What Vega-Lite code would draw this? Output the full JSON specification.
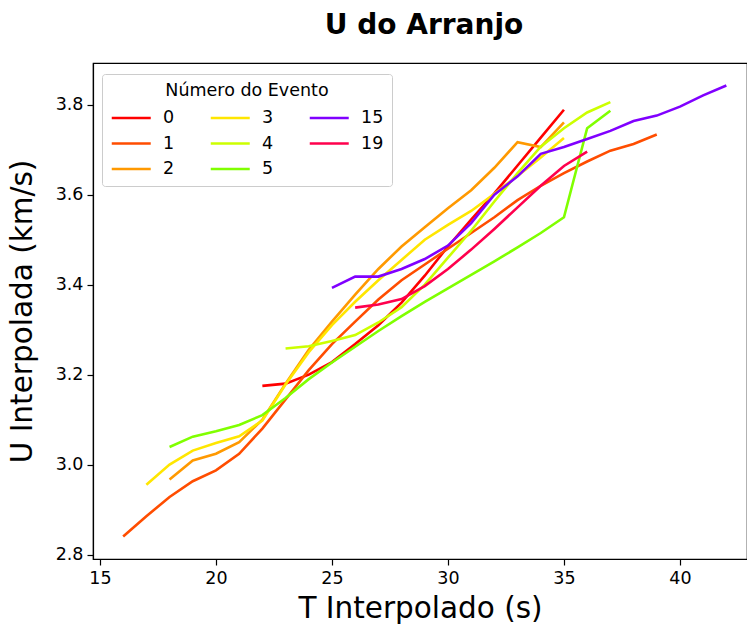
{
  "$schema": "https://vega.github.io/schema/vega-lite/v6.json",
  "autosize": {"type": "none"},
  "padding": {"left": 93, "top": 63, "right": 0, "bottom": 67},
  "width": 654,
  "height": 496,
  "background": "white",
  "config": {
    "font": "DejaVu Sans",
    "view": {"stroke": "black", "strokeWidth": 1.2}
  },
  "title": {
    "text": "U do Arranjo",
    "font": "DejaVu Sans",
    "fontSize": 28,
    "fontWeight": "bold",
    "color": "black",
    "anchor": "middle",
    "dx": 4,
    "offset": 23
  },
  "datasets": {
    "curves": [
      {"evento": 0, "T": 22, "U": 3.175}, {"evento": 0, "T": 23, "U": 3.18}, {"evento": 0, "T": 24, "U": 3.2}, {"evento": 0, "T": 25, "U": 3.228}, {"evento": 0, "T": 26, "U": 3.268}, {"evento": 0, "T": 27, "U": 3.31}, {"evento": 0, "T": 28, "U": 3.36}, {"evento": 0, "T": 29, "U": 3.42}, {"evento": 0, "T": 30, "U": 3.485}, {"evento": 0, "T": 31, "U": 3.545}, {"evento": 0, "T": 32, "U": 3.603}, {"evento": 0, "T": 33, "U": 3.665}, {"evento": 0, "T": 34, "U": 3.727}, {"evento": 0, "T": 35, "U": 3.789},
      {"evento": 1, "T": 16, "U": 2.84}, {"evento": 1, "T": 17, "U": 2.885}, {"evento": 1, "T": 18, "U": 2.928}, {"evento": 1, "T": 19, "U": 2.963}, {"evento": 1, "T": 20, "U": 2.987}, {"evento": 1, "T": 21, "U": 3.024}, {"evento": 1, "T": 22, "U": 3.08}, {"evento": 1, "T": 23, "U": 3.145}, {"evento": 1, "T": 24, "U": 3.21}, {"evento": 1, "T": 25, "U": 3.268}, {"evento": 1, "T": 26, "U": 3.318}, {"evento": 1, "T": 27, "U": 3.367}, {"evento": 1, "T": 28, "U": 3.41}, {"evento": 1, "T": 29, "U": 3.445}, {"evento": 1, "T": 30, "U": 3.48}, {"evento": 1, "T": 31, "U": 3.515}, {"evento": 1, "T": 32, "U": 3.55}, {"evento": 1, "T": 33, "U": 3.588}, {"evento": 1, "T": 34, "U": 3.62}, {"evento": 1, "T": 35, "U": 3.648}, {"evento": 1, "T": 36, "U": 3.674}, {"evento": 1, "T": 37, "U": 3.698}, {"evento": 1, "T": 38, "U": 3.713}, {"evento": 1, "T": 39, "U": 3.734},
      {"evento": 2, "T": 18, "U": 2.967}, {"evento": 2, "T": 19, "U": 3.009}, {"evento": 2, "T": 20, "U": 3.024}, {"evento": 2, "T": 21, "U": 3.05}, {"evento": 2, "T": 22, "U": 3.1}, {"evento": 2, "T": 23, "U": 3.18}, {"evento": 2, "T": 24, "U": 3.255}, {"evento": 2, "T": 25, "U": 3.318}, {"evento": 2, "T": 26, "U": 3.378}, {"evento": 2, "T": 27, "U": 3.435}, {"evento": 2, "T": 28, "U": 3.485}, {"evento": 2, "T": 29, "U": 3.528}, {"evento": 2, "T": 30, "U": 3.57}, {"evento": 2, "T": 31, "U": 3.61}, {"evento": 2, "T": 32, "U": 3.66}, {"evento": 2, "T": 33, "U": 3.717}, {"evento": 2, "T": 34, "U": 3.706}, {"evento": 2, "T": 35, "U": 3.761},
      {"evento": 3, "T": 17, "U": 2.955}, {"evento": 3, "T": 18, "U": 3.0}, {"evento": 3, "T": 19, "U": 3.031}, {"evento": 3, "T": 20, "U": 3.048}, {"evento": 3, "T": 21, "U": 3.063}, {"evento": 3, "T": 22, "U": 3.098}, {"evento": 3, "T": 23, "U": 3.178}, {"evento": 3, "T": 24, "U": 3.25}, {"evento": 3, "T": 25, "U": 3.31}, {"evento": 3, "T": 26, "U": 3.362}, {"evento": 3, "T": 27, "U": 3.41}, {"evento": 3, "T": 28, "U": 3.455}, {"evento": 3, "T": 29, "U": 3.5}, {"evento": 3, "T": 30, "U": 3.533}, {"evento": 3, "T": 31, "U": 3.564}, {"evento": 3, "T": 32, "U": 3.602}, {"evento": 3, "T": 33, "U": 3.642}, {"evento": 3, "T": 34, "U": 3.683}, {"evento": 3, "T": 35, "U": 3.726},
      {"evento": 4, "T": 23, "U": 3.258}, {"evento": 4, "T": 24, "U": 3.263}, {"evento": 4, "T": 25, "U": 3.275}, {"evento": 4, "T": 26, "U": 3.288}, {"evento": 4, "T": 27, "U": 3.316}, {"evento": 4, "T": 28, "U": 3.35}, {"evento": 4, "T": 29, "U": 3.4}, {"evento": 4, "T": 30, "U": 3.46}, {"evento": 4, "T": 31, "U": 3.52}, {"evento": 4, "T": 32, "U": 3.585}, {"evento": 4, "T": 33, "U": 3.648}, {"evento": 4, "T": 34, "U": 3.707}, {"evento": 4, "T": 35, "U": 3.748}, {"evento": 4, "T": 36, "U": 3.783}, {"evento": 4, "T": 37, "U": 3.806},
      {"evento": 5, "T": 18, "U": 3.039}, {"evento": 5, "T": 19, "U": 3.062}, {"evento": 5, "T": 20, "U": 3.074}, {"evento": 5, "T": 21, "U": 3.088}, {"evento": 5, "T": 22, "U": 3.11}, {"evento": 5, "T": 23, "U": 3.148}, {"evento": 5, "T": 24, "U": 3.19}, {"evento": 5, "T": 25, "U": 3.227}, {"evento": 5, "T": 26, "U": 3.262}, {"evento": 5, "T": 27, "U": 3.297}, {"evento": 5, "T": 28, "U": 3.33}, {"evento": 5, "T": 29, "U": 3.362}, {"evento": 5, "T": 30, "U": 3.392}, {"evento": 5, "T": 31, "U": 3.422}, {"evento": 5, "T": 32, "U": 3.452}, {"evento": 5, "T": 33, "U": 3.483}, {"evento": 5, "T": 34, "U": 3.515}, {"evento": 5, "T": 35, "U": 3.55}, {"evento": 5, "T": 36, "U": 3.748}, {"evento": 5, "T": 37, "U": 3.787},
      {"evento": 15, "T": 25, "U": 3.393}, {"evento": 15, "T": 26, "U": 3.418}, {"evento": 15, "T": 27, "U": 3.418}, {"evento": 15, "T": 28, "U": 3.435}, {"evento": 15, "T": 29, "U": 3.457}, {"evento": 15, "T": 30, "U": 3.487}, {"evento": 15, "T": 31, "U": 3.537}, {"evento": 15, "T": 32, "U": 3.6}, {"evento": 15, "T": 33, "U": 3.641}, {"evento": 15, "T": 34, "U": 3.691}, {"evento": 15, "T": 35, "U": 3.706}, {"evento": 15, "T": 36, "U": 3.724}, {"evento": 15, "T": 37, "U": 3.742}, {"evento": 15, "T": 38, "U": 3.764}, {"evento": 15, "T": 39, "U": 3.776}, {"evento": 15, "T": 40, "U": 3.796}, {"evento": 15, "T": 41, "U": 3.821}, {"evento": 15, "T": 42, "U": 3.843},
      {"evento": 19, "T": 26, "U": 3.349}, {"evento": 19, "T": 27, "U": 3.356}, {"evento": 19, "T": 28, "U": 3.368}, {"evento": 19, "T": 29, "U": 3.397}, {"evento": 19, "T": 30, "U": 3.435}, {"evento": 19, "T": 31, "U": 3.478}, {"evento": 19, "T": 32, "U": 3.524}, {"evento": 19, "T": 33, "U": 3.572}, {"evento": 19, "T": 34, "U": 3.62}, {"evento": 19, "T": 35, "U": 3.664}, {"evento": 19, "T": 36, "U": 3.696}
    ]
  },
  "data": {"name": "curves"},
  "mark": {"type": "line", "strokeWidth": 2.6, "clip": true},
  "encoding": {
    "x": {
      "field": "T",
      "type": "quantitative",
      "scale": {"domain": [14.7, 42.89], "nice": false, "zero": false},
      "axis": {
        "title": "T Interpolado (s)",
        "values": [15, 20, 25, 30, 35, 40],
        "format": "d",
        "grid": false,
        "labelFont": "DejaVu Sans",
        "labelFontSize": 17.5,
        "labelColor": "black",
        "labelPadding": 4,
        "tickSize": 6,
        "tickWidth": 1.2,
        "tickColor": "black",
        "domainColor": "black",
        "domainWidth": 1.2,
        "titleFont": "DejaVu Sans",
        "titleFontSize": 29.5,
        "titleFontWeight": "normal",
        "titleColor": "black",
        "titlePadding": 8
      }
    },
    "y": {
      "field": "U",
      "type": "quantitative",
      "scale": {"domain": [2.79, 3.893], "nice": false, "zero": false},
      "axis": {
        "title": "U Interpolada (km/s)",
        "values": [2.8, 3.0, 3.2, 3.4, 3.6, 3.8],
        "format": ".1f",
        "grid": false,
        "labelFont": "DejaVu Sans",
        "labelFontSize": 17.5,
        "labelColor": "black",
        "labelPadding": 4,
        "tickSize": 6,
        "tickWidth": 1.2,
        "tickColor": "black",
        "domainColor": "black",
        "domainWidth": 1.2,
        "titleFont": "DejaVu Sans",
        "titleFontSize": 29.5,
        "titleFontWeight": "normal",
        "titleColor": "black",
        "titlePadding": 18
      }
    },
    "color": {
      "field": "evento",
      "type": "nominal",
      "scale": {
        "domain": [0, 1, 2, 3, 4, 5, 15, 19],
        "range": ["#ff0000", "#ff4d00", "#ff9900", "#ffe600", "#ccff00", "#80ff00", "#8000ff", "#ff004d"]
      },
      "legend": {
        "title": "Número do Evento",
        "orient": "none",
        "direction": "vertical",
        "legendX": 9,
        "legendY": 11,
        "columns": 3,
        "columnPadding": 30,
        "rowPadding": 5.5,
        "symbolType": "M-1,0H3",
        "symbolSize": 380,
        "symbolStrokeWidth": 2.6,
        "labelOffset": 30,
        "labelFont": "DejaVu Sans",
        "labelFontSize": 17.5,
        "labelColor": "black",
        "titleFont": "DejaVu Sans",
        "titleFontSize": 17.5,
        "titleFontWeight": "normal",
        "titleColor": "black",
        "titleAnchor": "middle",
        "titlePadding": 7,
        "fillColor": "white",
        "strokeColor": "#cccccc",
        "cornerRadius": 3,
        "padding": 8
      }
    }
  }
}
